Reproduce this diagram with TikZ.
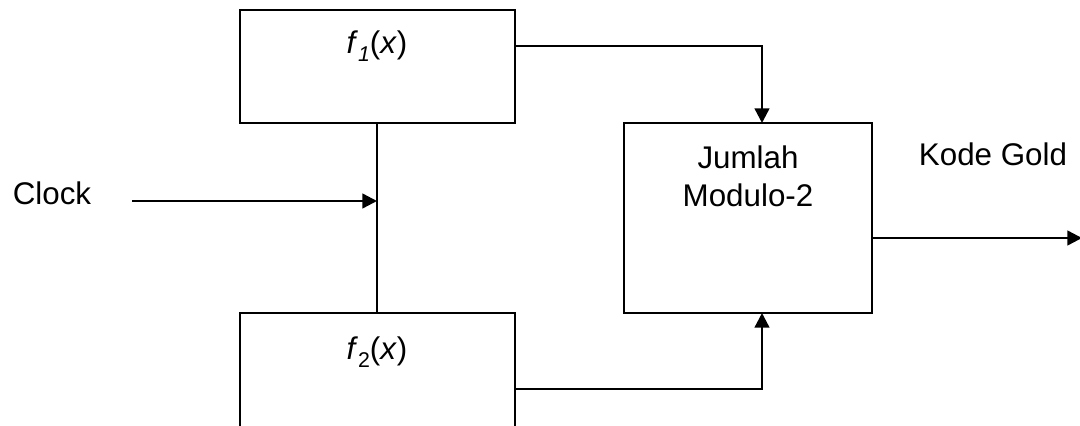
\documentclass[tikz,border=0pt]{standalone}
\usepackage{fontspec}
\setmainfont{Liberation Sans}
\usetikzlibrary{arrows.meta}

\newcommand{\lowsub}[1]{\raisebox{-6pt}{\fontsize{16}{16}\selectfont #1}}

\tikzset{every picture/.style={line width=1.8pt}}
\tikzset{
  box/.style={draw, rectangle, inner sep=0pt, line width=1.6pt},
  lbl/.style={inner sep=0pt, font=\fontsize{23.5}{28.5}\selectfont},
  tip/.style={-{Triangle[length=11pt,width=11pt]}}
}

\begin{document}
\begin{tikzpicture}[x=0.75pt,y=0.75pt,yscale=-1,xscale=1]
\clip (0,0) rectangle (1080,425);

%Shape: Rectangle [id:f1]
\node [box, minimum width=206.25pt, minimum height=84.75pt] (f1) at (377.5,66.5) {};
%Shape: Rectangle [id:f2]
\node [box, minimum width=206.25pt, minimum height=114pt] (f2) at (377.5,389) {};
%Shape: Rectangle [id:sum]
\node [box, minimum width=186pt, minimum height=142.5pt] (sum) at (748,218) {};

% Text Node
\node [lbl] (f1lbl) at (377,46) {\textit{f}\lowsub{\textit{1}}(\textit{x})};
% Text Node
\node [lbl] (f2lbl) at (377,352) {\textit{f}\lowsub{2}(\textit{x})};
% Text Node
\node [lbl, anchor=north, align=center] (sumlbl) at (748,145) {Jumlah\\Modulo-2};
% Text Node
\node [lbl] (clock) at (52,193) {Clock};
% Text Node
\node [lbl] (gold) at (993,154) {Kode Gold};

\coordinate (clkin) at (132,201);
\coordinate (in1) at (762,123);
\coordinate (in2) at (762,313);
\coordinate (out) at (1082,238);

%Straight Lines
\draw [line width=1.6pt] ([xshift=-0.375pt]f1.south) -- ([xshift=-0.375pt]f2.north);
\draw [tip] (clkin) -- ([xshift=-0.375pt]f1.south |- clkin);
%Connectors
\draw [tip] (f1lbl -| f1.east) -| (in1);
\draw [tip] (f2.east) -| (in2);
\draw [tip] (sum.east |- out) -- (out);
\end{tikzpicture}
\end{document}
